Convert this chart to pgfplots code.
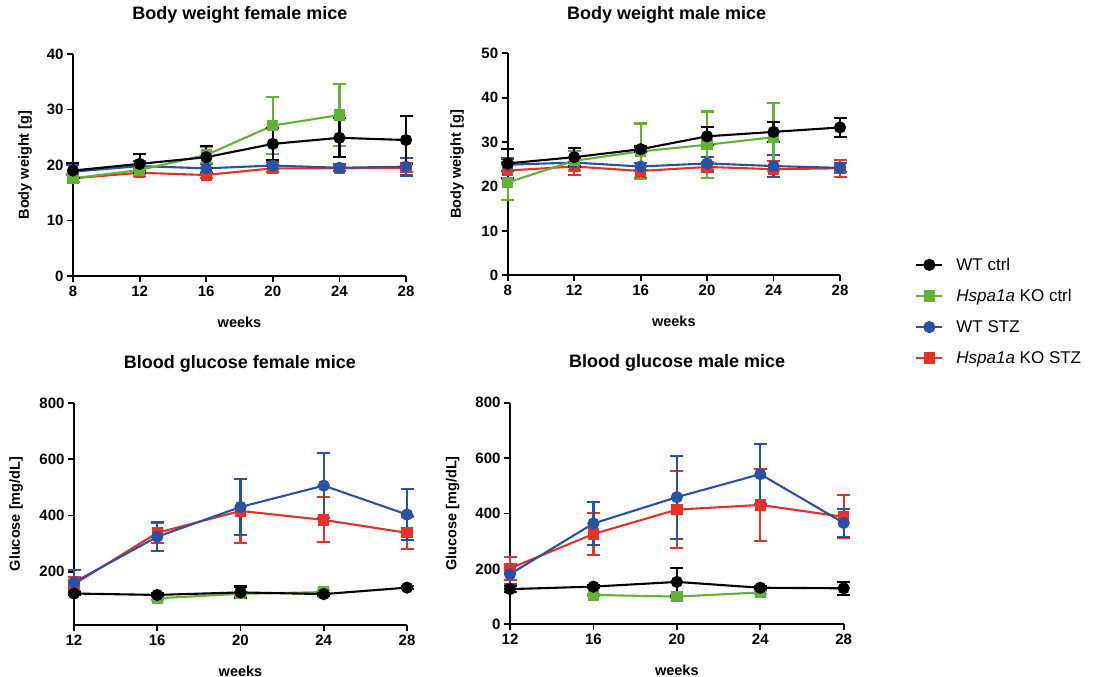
\documentclass[border=0pt]{standalone}
\usepackage{fontspec}
\setmainfont{Liberation Sans}
\usepackage{pgfplots}
\pgfplotsset{compat=1.18}
\definecolor{cgreen}{RGB}{98,178,54}
\definecolor{cblue}{RGB}{40,83,163}
\definecolor{cred}{RGB}{232,48,38}

\pgfplotsset{
 panel/.style={
  scale only axis, anchor=south west,
  axis x line*=bottom, axis y line*=left,
  axis line style={line width=1.8pt},
  every tick/.style={black, line width=1.8pt},
  major tick length=6pt,
  tick align=outside,
  clip=false,
  tick label style={font=\bfseries\fontsize{15}{17}\selectfont},
  /pgf/number format/assume math mode=true,
  label style={font=\bfseries\fontsize{14.5}{16}\selectfont},
  title style={font=\bfseries\fontsize{18}{20}\selectfont, anchor=center},
  xlabel=weeks,
  xlabel style={at={(axis description cs:0.5,-0.207)}, anchor=center},
 },
 ser/.style={line width=2.1pt, mark options={solid},
  error bars/.cd, y dir=both, y explicit,
  error bar style={line width=2.2pt, solid},
  error mark options={rotate=90, mark size=6.5pt, line width=2.1pt}},
 sblack/.style={black, mark=*, mark size=5pt, ser},
 sgreen/.style={cgreen, mark=square*, mark size=4.6pt, ser},
 sblue/.style={cblue, mark=*, mark size=5pt, ser},
 sred/.style={cred, mark=square*, mark size=4.6pt, ser},
}

\begin{document}
\begin{tikzpicture}
\path[use as bounding box] (0,0) rectangle (1095pt,677pt);

% Panel 1: Body weight female
\begin{axis}[panel, at={(73pt,401pt)}, width=333pt, height=222pt,
  xmin=8, xmax=28, ymin=0, ymax=40, xtick={8,12,...,28}, ytick={0,10,...,40},
  title={Body weight female mice}, title style={at={(axis description cs:0.501,1.147)}},
  ylabel={Body weight [g]}, ylabel style={at={(axis description cs:-0.144,0.5)}, anchor=center}]
\addplot[sred] table[x index=0,y index=1,y error index=2] {
8 17.6 0.7
12 18.6 0.6
16 18.2 0.5
20 19.4 0.6
24 19.4 0.5
28 19.5 0.8
};
\addplot[sblue] table[x index=0,y index=1,y error index=2] {
8 18.8 1.2
12 19.8 0.9
16 19.4 0.8
20 19.9 0.7
24 19.5 0.6
28 19.7 1.6
};
\addplot[sgreen] table[x index=0,y index=1,y error index=2] {
8 17.6 0.6
12 19.1 0.9
16 21.8 1.5
20 27.1 5.1
24 29.0 5.6
};
\addplot[sblack] table[x index=0,y index=1,y error index=2] {
8 19.0 1.3
12 20.2 1.7
16 21.4 2.0
20 23.8 2.9
24 24.9 3.5
28 24.5 4.4
};
\end{axis}

% Panel 2: Body weight male
\begin{axis}[panel, at={(507.7pt,401.7pt)}, width=332.3pt, height=222pt,
  xmin=8, xmax=28, ymin=0, ymax=50, xtick={8,12,...,28}, ytick={0,10,...,50},
  title={Body weight male mice}, title style={at={(axis description cs:0.478,1.145)}},
  ylabel={Body weight [g]}, ylabel style={at={(axis description cs:-0.152,0.5)}, anchor=center},
  legend style={at={(axis description cs:1.217,0.097)}, anchor=north west, draw=none, fill=none,
    font=\fontsize{17}{20}\selectfont, row sep=13.4pt},
  legend cell align=left,
  legend image code/.code={\draw[mark repeat=2,mark phase=2,#1] plot coordinates {(0pt,0pt) (13pt,0pt) (26pt,0pt)}; \path (37pt,0pt);}]
\addlegendimage{black, line width=2.1pt, mark=*, mark size=5pt, mark options={solid}}
\addlegendentry{WT ctrl}
\addlegendimage{cgreen, line width=2.1pt, mark=square*, mark size=4.6pt, mark options={solid}}
\addlegendentry{\textit{Hspa1a} KO ctrl}
\addlegendimage{cblue, line width=2.1pt, mark=*, mark size=5pt, mark options={solid}}
\addlegendentry{WT STZ}
\addlegendimage{cred, line width=2.1pt, mark=square*, mark size=4.6pt, mark options={solid}}
\addlegendentry{\textit{Hspa1a} KO STZ}
\addplot[forget plot, sred] table[x index=0,y index=1,y error index=2] {
8 23.6 1.8
12 24.5 1.9
16 23.5 1.7
20 24.4 1.2
24 23.9 1.8
28 24.1 1.9
};
\addplot[forget plot, sblue] table[x index=0,y index=1,y error index=2] {
8 24.9 1.4
12 25.4 1.1
16 24.5 0.8
20 25.2 1.5
24 24.6 2.4
28 24.2 1.0
};
\addplot[forget plot, sgreen] table[x index=0,y index=1,y error index=2] {
8 20.9 3.9
12 25.8 2.2
16 27.9 6.3
20 29.4 7.5
24 31.1 7.7
};
\addplot[forget plot, sblack] table[x index=0,y index=1,y error index=2] {
8 25.2 3.3
12 26.6 2.1
16 28.4 0.6
20 31.3 2.0
24 32.3 2.2
28 33.3 2.1
};
\end{axis}

% Panel 3: Blood glucose female
\begin{axis}[panel, at={(74pt,52pt)}, width=333pt, height=222pt,
  xmin=12, xmax=28, ymin=10, ymax=800, xtick={12,16,...,28}, ytick={200,400,...,800},
  title={Blood glucose female mice}, title style={at={(axis description cs:0.498,1.148)}},
  ylabel={Glucose [mg/dL]}, ylabel style={at={(axis description cs:-0.174,0.5)}, anchor=center}]
\addplot[sred] table[x index=0,y index=1,y error index=2] {
12 155 25
16 338 35
20 416 113
24 384 80
28 338 58
};
\addplot[sblue] table[x index=0,y index=1,y error index=2] {
12 162 44
16 324 51
20 430 100
24 506 116
28 403 91
};
\addplot[sgreen] table[x index=0,y index=1,y error index=2] {
16 105 5
20 121 8
24 127 6
};
\addplot[sblack] table[x index=0,y index=1,y error index=2] {
12 122 5
16 117 5
20 126 21
24 120 5
28 143 5
};
\end{axis}

% Panel 4: Blood glucose male
\begin{axis}[panel, at={(510pt,52.7pt)}, width=333.7pt, height=221.6pt,
  xmin=12, xmax=28, ymin=0, ymax=800, xtick={12,16,...,28}, ytick={0,200,...,800},
  title={Blood glucose male mice}, title style={at={(axis description cs:0.501,1.152)}},
  ylabel={Glucose [mg/dL]}, ylabel style={at={(axis description cs:-0.172,0.5)}, anchor=center}]
\addplot[sred] table[x index=0,y index=1,y error index=2] {
12 202 41
16 326 75
20 414 139
24 431 130
28 388 78
};
\addplot[sblue] table[x index=0,y index=1,y error index=2] {
12 181 35
16 364 77
20 459 150
24 542 109
28 366 51
};
\addplot[sgreen] table[x index=0,y index=1,y error index=2] {
16 106 5
20 100 5
24 115 5
};
\addplot[sblack] table[x index=0,y index=1,y error index=2] {
12 127 10
16 136 5
20 153 51
24 132 5
28 130 24
};
\end{axis}
\end{tikzpicture}
\end{document}
